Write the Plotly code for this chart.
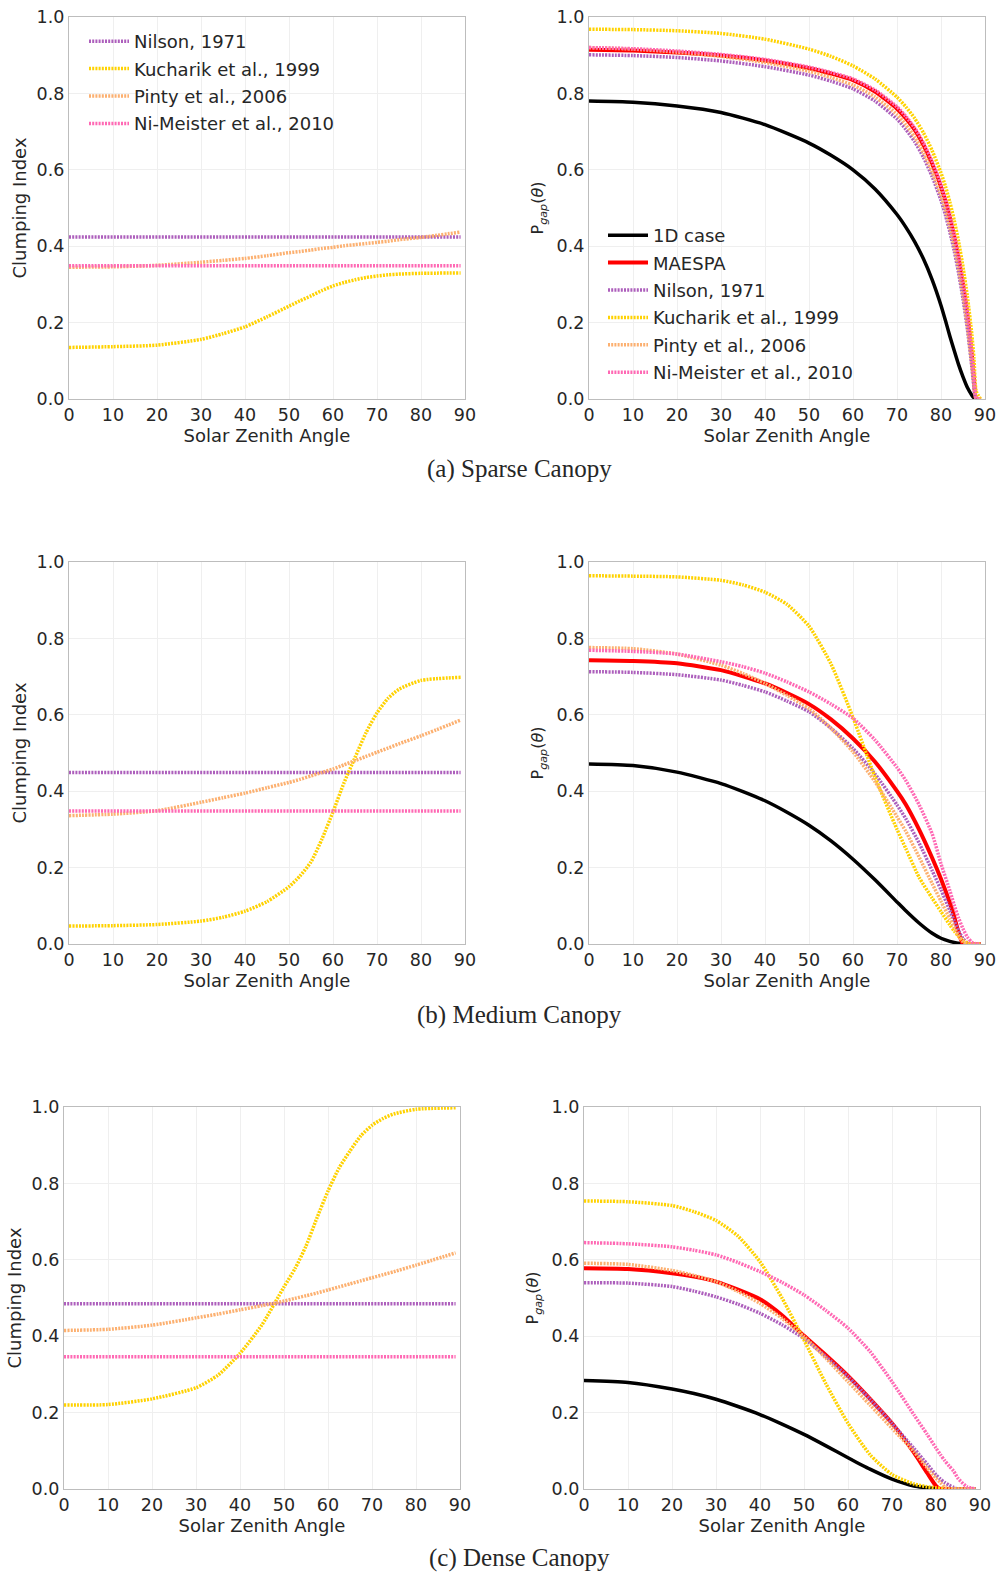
import plotly.graph_objects as go

# ---------------- data ----------------
# Clumping index against solar zenith angle (degrees)
ANGLE_CI = [0, 10, 20, 30, 35, 40, 45, 50, 52.5, 55, 57.5, 60, 62.5, 65, 67.5, 70, 72.5, 75, 80, 89]
ANGLE_FLAT = [0, 89]

CI_NILSON_SPARSE = [0.424, 0.424]
CI_NIMEISTER_SPARSE = [0.349, 0.349]
CI_KUCHARIK_SPARSE = [0.135, 0.137, 0.141, 0.156, 0.171, 0.189, 0.215, 0.243, 0.257, 0.270,
                      0.284, 0.296, 0.305, 0.312, 0.318, 0.322, 0.325, 0.327, 0.329, 0.330]
CI_PINTY_SPARSE = [0.345, 0.346, 0.350, 0.358, 0.363, 0.368, 0.375, 0.383, 0.386, 0.390,
                   0.394, 0.397, 0.401, 0.404, 0.407, 0.410, 0.413, 0.417, 0.423, 0.437]

CI_NILSON_MEDIUM = [0.449, 0.449]
CI_NIMEISTER_MEDIUM = [0.348, 0.348]
CI_KUCHARIK_MEDIUM = [0.047, 0.048, 0.051, 0.060, 0.070, 0.086, 0.111, 0.150, 0.178, 0.215,
                      0.275, 0.346, 0.422, 0.488, 0.553, 0.605, 0.643, 0.667, 0.690, 0.698]
CI_PINTY_MEDIUM = [0.336, 0.340, 0.349, 0.371, 0.383, 0.395, 0.409, 0.423, 0.431, 0.440,
                   0.449, 0.458, 0.469, 0.480, 0.491, 0.502, 0.513, 0.524, 0.545, 0.586]

CI_NILSON_DENSE = [0.485, 0.485]
CI_NIMEISTER_DENSE = [0.346, 0.346]
CI_KUCHARIK_DENSE = [0.220, 0.221, 0.236, 0.265, 0.298, 0.355, 0.430, 0.529, 0.577, 0.636,
                     0.710, 0.780, 0.840, 0.885, 0.925, 0.952, 0.970, 0.982, 0.994, 0.998]
CI_PINTY_DENSE = [0.415, 0.418, 0.429, 0.448, 0.458, 0.469, 0.480, 0.492, 0.499, 0.506,
                  0.513, 0.521, 0.529, 0.537, 0.545, 0.553, 0.561, 0.569, 0.586, 0.618]

# Gap probability against solar zenith angle
ANGLE_PGAP_SPARSE = [0, 10, 20, 30, 40, 50, 55, 60, 65, 70, 72, 74, 76, 78, 80, 81, 82, 83, 84,
                     85, 86, 87, 87.5, 88, 89]
PGAP_1D_SPARSE = [0.780, 0.777, 0.767, 0.750, 0.718, 0.670, 0.638, 0.600, 0.550, 0.483, 0.450,
                  0.412, 0.367, 0.312, 0.245, 0.206, 0.165, 0.127, 0.090, 0.058, 0.030, 0.010,
                  0.003, 0.0, 0.0]
PGAP_MAESPA_SPARSE = [0.914, 0.912, 0.907, 0.899, 0.886, 0.866, 0.852, 0.835, 0.805, 0.760, 0.735,
                      0.705, 0.665, 0.615, 0.555, 0.518, 0.475, 0.425, 0.368, 0.300, 0.220, 0.115,
                      0.050, 0.0, 0.0]
PGAP_NILSON_SPARSE = [0.901, 0.899, 0.894, 0.885, 0.870, 0.848, 0.832, 0.812, 0.780, 0.733, 0.706,
                      0.674, 0.633, 0.582, 0.520, 0.482, 0.438, 0.388, 0.330, 0.262, 0.183, 0.085,
                      0.030, 0.0, 0.0]
PGAP_KUCHARIK_SPARSE = [0.968, 0.967, 0.964, 0.957, 0.942, 0.916, 0.897, 0.872, 0.838, 0.790, 0.765,
                        0.735, 0.697, 0.650, 0.592, 0.557, 0.516, 0.468, 0.412, 0.346, 0.268, 0.170,
                        0.105, 0.020, 0.0]
PGAP_PINTY_SPARSE = [0.920, 0.916, 0.908, 0.897, 0.881, 0.858, 0.842, 0.822, 0.791, 0.745, 0.718,
                     0.686, 0.645, 0.594, 0.532, 0.494, 0.450, 0.400, 0.342, 0.273, 0.192, 0.090,
                     0.035, 0.0, 0.0]
PGAP_NIMEISTER_SPARSE = [0.920, 0.917, 0.911, 0.902, 0.889, 0.869, 0.855, 0.838, 0.809, 0.765, 0.740,
                         0.710, 0.671, 0.622, 0.562, 0.525, 0.482, 0.432, 0.375, 0.307, 0.227, 0.120,
                         0.055, 0.003, 0.0]

ANGLE_PGAP_MEDIUM = [0, 10, 20, 30, 35, 40, 45, 50, 55, 60, 65, 70, 72, 75, 78, 80, 82, 83, 84, 85,
                     86, 87, 88, 89]
PGAP_1D_MEDIUM = [0.471, 0.467, 0.450, 0.420, 0.399, 0.375, 0.345, 0.311, 0.270, 0.222, 0.168,
                  0.110, 0.087, 0.055, 0.028, 0.015, 0.007, 0.004, 0.002, 0.0, 0.0, 0.0, 0.0, 0.0]
PGAP_MAESPA_MEDIUM = [0.743, 0.741, 0.735, 0.717, 0.701, 0.682, 0.657, 0.628, 0.588, 0.538, 0.477,
                      0.400, 0.365, 0.300, 0.225, 0.170, 0.108, 0.072, 0.030, 0.0, 0.0, 0.0, 0.0, 0.0]
PGAP_NILSON_MEDIUM = [0.713, 0.711, 0.705, 0.691, 0.677, 0.660, 0.636, 0.608, 0.565, 0.512, 0.445,
                      0.364, 0.328, 0.265, 0.192, 0.142, 0.088, 0.060, 0.035, 0.014, 0.003, 0.0, 0.0, 0.0]
PGAP_KUCHARIK_MEDIUM = [0.964, 0.963, 0.961, 0.952, 0.940, 0.921, 0.889, 0.832, 0.733, 0.593, 0.437,
                        0.300, 0.250, 0.175, 0.120, 0.085, 0.050, 0.034, 0.020, 0.009, 0.003, 0.0, 0.0,
                        0.0]
PGAP_PINTY_MEDIUM = [0.776, 0.773, 0.759, 0.730, 0.708, 0.682, 0.651, 0.616, 0.565, 0.503, 0.425,
                     0.333, 0.295, 0.228, 0.158, 0.112, 0.066, 0.043, 0.021, 0.006, 0.0, 0.0, 0.0, 0.0]
PGAP_NIMEISTER_MEDIUM = [0.769, 0.766, 0.759, 0.739, 0.726, 0.709, 0.686, 0.660, 0.628, 0.591, 0.534,
                         0.462, 0.428, 0.365, 0.288, 0.210, 0.140, 0.102, 0.068, 0.040, 0.018, 0.005,
                         0.0, 0.0]

ANGLE_PGAP_DENSE = [0, 10, 20, 25, 30, 35, 40, 45, 50, 55, 60, 65, 70, 75, 78, 80, 81, 82, 83, 84,
                    85, 87, 89]
PGAP_1D_DENSE = [0.284, 0.279, 0.262, 0.250, 0.235, 0.216, 0.195, 0.170, 0.143, 0.113, 0.082, 0.052,
                 0.026, 0.008, 0.003, 0.001, 0.0, 0.0, 0.0, 0.0, 0.0, 0.0, 0.0]
PGAP_MAESPA_DENSE = [0.578, 0.576, 0.565, 0.556, 0.543, 0.522, 0.497, 0.455, 0.401, 0.350, 0.296,
                     0.236, 0.172, 0.095, 0.042, 0.008, 0.0, 0.0, 0.0, 0.0, 0.0, 0.0, 0.0]
PGAP_NILSON_DENSE = [0.540, 0.539, 0.530, 0.518, 0.503, 0.484, 0.460, 0.430, 0.394, 0.346, 0.294,
                     0.235, 0.172, 0.106, 0.065, 0.037, 0.026, 0.017, 0.010, 0.004, 0.0, 0.0, 0.0]
PGAP_KUCHARIK_DENSE = [0.754, 0.752, 0.742, 0.726, 0.703, 0.662, 0.595, 0.500, 0.390, 0.275, 0.172,
                       0.090, 0.038, 0.013, 0.006, 0.003, 0.002, 0.001, 0.0, 0.0, 0.0, 0.0, 0.0]
PGAP_PINTY_DENSE = [0.591, 0.588, 0.572, 0.559, 0.543, 0.517, 0.486, 0.447, 0.399, 0.342, 0.281,
                    0.220, 0.159, 0.098, 0.055, 0.028, 0.017, 0.005, 0.0, 0.0, 0.0, 0.0, 0.0]
PGAP_NIMEISTER_DENSE = [0.645, 0.642, 0.634, 0.625, 0.613, 0.593, 0.569, 0.541, 0.508, 0.467, 0.421,
                        0.360, 0.281, 0.194, 0.143, 0.107, 0.090, 0.074, 0.060, 0.047, 0.028, 0.006,
                        0.0]

X_TICKS = [0, 10, 20, 30, 40, 50, 60, 70, 80, 90]
Y_TICKS = [0.0, 0.2, 0.4, 0.6, 0.8, 1.0]
Y_TICK_TEXT = ["0.0", "0.2", "0.4", "0.6", "0.8", "1.0"]
CAPTIONS = ["(a) Sparse Canopy", "(b) Medium Canopy", "(c) Dense Canopy"]

# ---------------- styling ----------------
W, H = 1005, 1576
FONT = "DejaVu Sans"
TXT = "#262626"
C_1D = "#000000"
C_MAESPA = "#ff0000"
C_NILSON = "#ad5fbc"
C_KUCHARIK = "#ffd200"
C_PINTY = "#fcb070"
C_NIMEISTER = "#ff69b4"
DOT = "2px,1.2px"

# plot boxes in pixels: (left, right, top, bottom)
BOXES = [
    (69, 465, 17, 399), (589, 985, 17, 399),
    (69, 465, 562, 944), (589, 985, 562, 944),
    (64, 460, 1107, 1489), (584, 980, 1107, 1489),
]
CAPTION_Y = [469, 1015, 1558]
CAPTION_X = 519

fig = go.Figure()


def line(x, y, name, color, width, dash, ax, legend=None):
    fig.add_trace(go.Scatter(
        x=x, y=y, name=name, mode="lines",
        line=dict(color=color, width=width, dash=dash, shape="spline", smoothing=0.6),
        xaxis="x" + ax, yaxis="y" + ax,
        showlegend=legend is not None, legend=legend or "legend",
        legendgroup=name + (legend or ""), hoverinfo="x+y+name",
    ))


ci_sets = [
    (CI_NILSON_SPARSE, CI_KUCHARIK_SPARSE, CI_PINTY_SPARSE, CI_NIMEISTER_SPARSE),
    (CI_NILSON_MEDIUM, CI_KUCHARIK_MEDIUM, CI_PINTY_MEDIUM, CI_NIMEISTER_MEDIUM),
    (CI_NILSON_DENSE, CI_KUCHARIK_DENSE, CI_PINTY_DENSE, CI_NIMEISTER_DENSE),
]
pgap_sets = [
    (ANGLE_PGAP_SPARSE, PGAP_1D_SPARSE, PGAP_MAESPA_SPARSE, PGAP_NILSON_SPARSE,
     PGAP_KUCHARIK_SPARSE, PGAP_PINTY_SPARSE, PGAP_NIMEISTER_SPARSE),
    (ANGLE_PGAP_MEDIUM, PGAP_1D_MEDIUM, PGAP_MAESPA_MEDIUM, PGAP_NILSON_MEDIUM,
     PGAP_KUCHARIK_MEDIUM, PGAP_PINTY_MEDIUM, PGAP_NIMEISTER_MEDIUM),
    (ANGLE_PGAP_DENSE, PGAP_1D_DENSE, PGAP_MAESPA_DENSE, PGAP_NILSON_DENSE,
     PGAP_KUCHARIK_DENSE, PGAP_PINTY_DENSE, PGAP_NIMEISTER_DENSE),
]

for row in range(3):
    left_ax = "" if row == 0 else str(2 * row + 1)
    right_ax = str(2 * row + 2)
    lg1 = "legend" if row == 0 else None
    lg2 = "legend2" if row == 0 else None

    nil, kuc, pin, nim = ci_sets[row]
    line(ANGLE_FLAT, nil, "Nilson, 1971", C_NILSON, 3.5, DOT, left_ax, lg1)
    line(ANGLE_CI, kuc, "Kucharik et al., 1999", C_KUCHARIK, 3.5, DOT, left_ax, lg1)
    line(ANGLE_CI, pin, "Pinty et al., 2006", C_PINTY, 3.5, DOT, left_ax, lg1)
    line(ANGLE_FLAT, nim, "Ni-Meister et al., 2010", C_NIMEISTER, 3.5, DOT, left_ax, lg1)

    ang, p1d, pma, pnil, pkuc, ppin, pnim = pgap_sets[row]
    line(ang, p1d, "1D case", C_1D, 3.5, "solid", right_ax, lg2)
    line(ang, pma, "MAESPA", C_MAESPA, 4, "solid", right_ax, lg2)
    line(ang, pnil, "Nilson, 1971", C_NILSON, 3.5, DOT, right_ax, lg2)
    line(ang, pkuc, "Kucharik et al., 1999", C_KUCHARIK, 3.5, DOT, right_ax, lg2)
    line(ang, ppin, "Pinty et al., 2006", C_PINTY, 3.5, DOT, right_ax, lg2)
    line(ang, pnim, "Ni-Meister et al., 2010", C_NIMEISTER, 3.5, DOT, right_ax, lg2)

layout = dict(
    width=W, height=H,
    margin=dict(l=0, r=0, t=0, b=0),
    paper_bgcolor="white", plot_bgcolor="white",
    font=dict(family=FONT, size=18, color=TXT),
    showlegend=True,
    legend=dict(x=84 / W, y=1 - 23 / H, xanchor="left", yanchor="top",
                bgcolor="rgba(0,0,0,0)", font=dict(size=18, color=TXT),
                tracegroupgap=1, itemwidth=40),
    legend2=dict(x=603 / W, y=1 - 217 / H, xanchor="left", yanchor="top",
                 bgcolor="rgba(0,0,0,0)", font=dict(size=18, color=TXT),
                 tracegroupgap=1, itemwidth=40),
)

for i, (l, r, t, b) in enumerate(BOXES):
    n = "" if i == 0 else str(i + 1)
    is_right = i % 2 == 1
    layout["xaxis" + n] = dict(
        domain=[l / W, r / W], anchor="y" + n, range=[0, 90],
        tickvals=X_TICKS, ticks="", showline=True, mirror=True,
        linecolor="#bdbdbd", linewidth=1.3, showgrid=True, gridcolor="#efefef",
        gridwidth=1, zeroline=False, tickfont=dict(size=17.5, color=TXT),
        title=dict(text="Solar Zenith Angle", standoff=4, font=dict(size=18, color=TXT)),
        automargin=False,
    )
    layout["yaxis" + n] = dict(
        domain=[1 - b / H, 1 - t / H], anchor="x" + n, range=[0, 1],
        tickvals=Y_TICKS, ticktext=Y_TICK_TEXT, ticks="", showline=True, mirror=True,
        linecolor="#bdbdbd", linewidth=1.3, showgrid=True, gridcolor="#efefef",
        gridwidth=1, zeroline=False, tickfont=dict(size=17.5, color=TXT),
        title=dict(
            text="P<sub><i>gap</i></sub>(<i>θ</i>)" if is_right else "Clumping Index",
            standoff=8 if is_right else 5, font=dict(size=16 if is_right else 18, color=TXT)),
        automargin=False,
    )

annotations = []
for cap, cy in zip(CAPTIONS, CAPTION_Y):
    annotations.append(dict(
        text=cap, x=CAPTION_X / W, y=1 - cy / H, xref="paper", yref="paper",
        xanchor="center", yanchor="middle", showarrow=False,
        font=dict(family="Liberation Serif", size=25, color=TXT),
    ))
layout["annotations"] = annotations

fig.update_layout(**layout)
fig.write_html("out.html")
